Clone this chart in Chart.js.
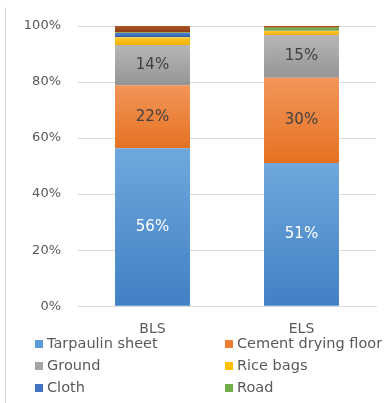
<!DOCTYPE html>
<html>
<head>
<meta charset="utf-8">
<script src="https://cdn.jsdelivr.net/npm/chart.js@4.4.1/dist/chart.umd.min.js"></script>
<style>
  html, body { margin: 0; padding: 0; background: #ffffff; }
  #wrap { width: 390px; height: 403px; position: relative; }
</style>
</head>
<body>
<div id="wrap"><canvas id="c" width="390" height="403"></canvas></div>
<script>
// Drying surface shares (%) for the two groups
const categories = ['BLS', 'ELS'];
const seriesNames = ['Tarpaulin sheet', 'Cement drying floor', 'Ground', 'Rice bags', 'Cloth', 'Road', 'Other'];
const tarpaulin = [56.4, 51.1];
const cementFloor = [22.49, 30.4];
const ground = [14.3, 15.3];
const riceBags = [2.8, 1.5];
const cloth = [1.5, 0.1];
const road = [0.2, 1.0];
const other = [2.3, 0.6];
const yTicks = [0, 20, 40, 60, 80, 100];

const seriesValues = [tarpaulin, cementFloor, ground, riceBags, cloth, road, other];
// [top shade, bottom shade, legend swatch]
const shades = [
  ['#6FA8DD', '#4180C4', '#5B9BD5'],
  ['#F3955A', '#E57221', '#ED7D31'],
  ['#B6B6B6', '#959595', '#A5A5A5'],
  ['#FFCB33', '#EDB000', '#FFC000'],
  ['#5080CF', '#2F5CAB', '#4472C4'],
  ['#7FBB56', '#5F9A39', '#70AD47'],
  ['#AE5526', '#8A3E10', '#9E480E']
];
const labelColors = ['#FFFFFF', '#404040', '#404040'];
const FONT = "'DejaVu Sans', sans-serif";

function segmentFill(si) {
  return function (ctx) {
    const chart = ctx.chart;
    const y = chart.scales && chart.scales.y;
    if (!y || ctx.dataIndex === undefined || !chart.chartArea) return shades[si][2];
    let base = 0;
    for (let k = 0; k < si; k++) base += seriesValues[k][ctx.dataIndex];
    const top = y.getPixelForValue(base + seriesValues[si][ctx.dataIndex]);
    const bottom = y.getPixelForValue(base);
    if (!isFinite(top) || !isFinite(bottom) || bottom - top < 1) return shades[si][2];
    const g = chart.ctx.createLinearGradient(0, top, 0, bottom);
    g.addColorStop(0, shades[si][0]);
    g.addColorStop(1, shades[si][1]);
    return g;
  };
}

const datasets = seriesNames.map((name, i) => ({
  label: name,
  data: seriesValues[i],
  backgroundColor: segmentFill(i),
  borderWidth: 0,
  barPercentage: 0.503,
  categoryPercentage: 1.0
}));

// Percent labels centred in the three main segments
const segmentLabels = {
  id: 'segmentLabels',
  afterDatasetsDraw(chart) {
    const c = chart.ctx;
    c.save();
    c.font = '15px ' + FONT;
    c.textAlign = 'center';
    c.textBaseline = 'middle';
    for (let i = 0; i < 3; i++) {
      const meta = chart.getDatasetMeta(i);
      meta.data.forEach((bar, j) => {
        const v = seriesValues[i][j];
        c.fillStyle = labelColors[i];
        c.fillText(Math.round(v) + '%', bar.x, (bar.y + bar.base) / 2);
      });
    }
    c.restore();
  }
};

// Two-column legend for the first six series, plus the outer frame edge
const gridLegend = {
  id: 'gridLegend',
  afterDraw(chart) {
    const c = chart.ctx;
    c.save();
    c.strokeStyle = '#D9D9D9';
    c.lineWidth = 1;
    c.beginPath();
    c.moveTo(5.5, 403);
    c.lineTo(5.5, 7.5);
    c.stroke();
    c.font = '14.5px ' + FONT;
    c.textBaseline = 'middle';
    c.textAlign = 'left';
    const colX = [35, 225];
    const rowY = [344, 366, 388];
    for (let i = 0; i < 6; i++) {
      const x = colX[i % 2];
      const y = rowY[Math.floor(i / 2)];
      c.fillStyle = shades[i][2];
      c.fillRect(x, y - 4, 8, 8);
      c.fillStyle = '#595959';
      c.fillText(seriesNames[i], x + 12, y);
    }
    c.restore();
  }
};

new Chart(document.getElementById('c'), {
  type: 'bar',
  data: { labels: categories, datasets },
  options: {
    responsive: false,
    animation: false,
    devicePixelRatio: 1,
    layout: { padding: { top: 26, right: 14, bottom: 50, left: 0 } },
    plugins: { legend: { display: false }, tooltip: { enabled: false } },
    scales: {
      x: {
        stacked: true,
        grid: { display: false, drawTicks: false },
        border: { display: true, color: '#D9D9D9' },
        ticks: { color: '#595959', font: { family: FONT, size: 14 }, padding: 15 }
      },
      y: {
        stacked: true,
        min: 0,
        max: 100,
        afterBuildTicks(scale) { scale.ticks = yTicks.map(v => ({ value: v })); },
        afterFit(scale) { scale.width = 78; },
        grid: { color: '#D9D9D9', drawTicks: false },
        border: { display: false },
        ticks: {
          color: '#595959',
          font: { family: FONT, size: 13 },
          padding: 17,
          callback: v => v + '%'
        }
      }
    }
  },
  plugins: [segmentLabels, gridLegend]
});
</script>
</body>
</html>
